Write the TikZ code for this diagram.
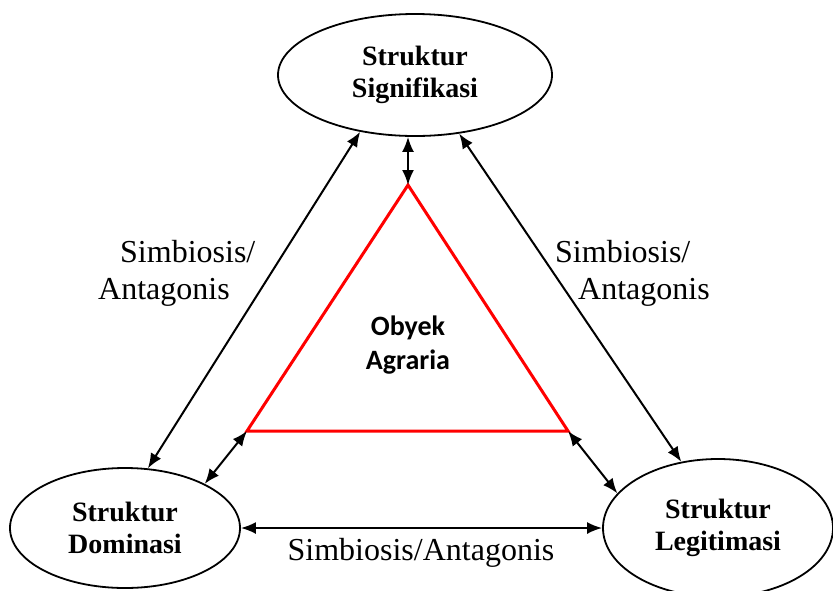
\documentclass[tikz,border=0pt]{standalone}
\usepackage{fontspec}
\setmainfont{Liberation Serif}
\newfontfamily\calibrifont{Carlito}
\usetikzlibrary{arrows.meta, shapes.geometric}

\begin{document}
\begin{tikzpicture}[x=1pt, y=-1pt,
    struktur/.style={draw, ellipse, line width=1.8pt, inner sep=0pt, align=center,
        font=\fontsize{28}{32}\selectfont\bfseries},
    relasi/.style={line width=2pt, {Latex[length=15pt,width=12pt]}-{Latex[length=15pt,width=12pt]}},
    relasiteks/.style={font=\fontsize{32}{37}\selectfont, align=left, inner sep=0pt}
]

% Page size
\useasboundingbox (0,0) rectangle (833,590);

% Structures
\node[struktur, minimum width=274pt, minimum height=122pt] (sig) at (415,75) {Struktur\\Signifikasi};
\node[struktur, minimum width=230pt, minimum height=120pt] (dom) at (125,528) {Struktur\\Dominasi};
\node[struktur, minimum width=230pt, minimum height=138pt] (leg) at (718,528) {Struktur\\Legitimasi};

% Agrarian object (red triangle)
\coordinate (puncak) at (408,185);
\coordinate (kiri) at (247,431);
\coordinate (kanan) at (568,431);
\draw[red, line width=3pt] (puncak) -- (kiri) -- (kanan) -- cycle;
\node[font=\calibrifont\fontsize{28}{34}\selectfont\bfseries, align=center] (obyek) at (408,345) {Obyek\\Agraria};

% Relations
\draw[relasi] (puncak |- sig.south) -- (puncak);
\draw[relasi] (sig.-134) -- (dom.69);
\draw[relasi] (sig.-53) -- (leg.119);
\draw[relasi] (kiri) -- (dom.29);
\draw[relasi] (kanan) -- (leg.161);
\draw[relasi] (dom.east) -- (leg.west);

% Labels
\node[relasiteks, anchor=west] (simkiri) at (98,273) {\hspace*{22pt}Simbiosis/\\Antagonis};
\node[relasiteks, anchor=west] (simkanan) at (555,273) {Simbiosis/\\\hspace*{23pt}Antagonis};
\node[relasiteks] (simbawah) at (421,553) {Simbiosis/Antagonis};

\end{tikzpicture}
\end{document}
